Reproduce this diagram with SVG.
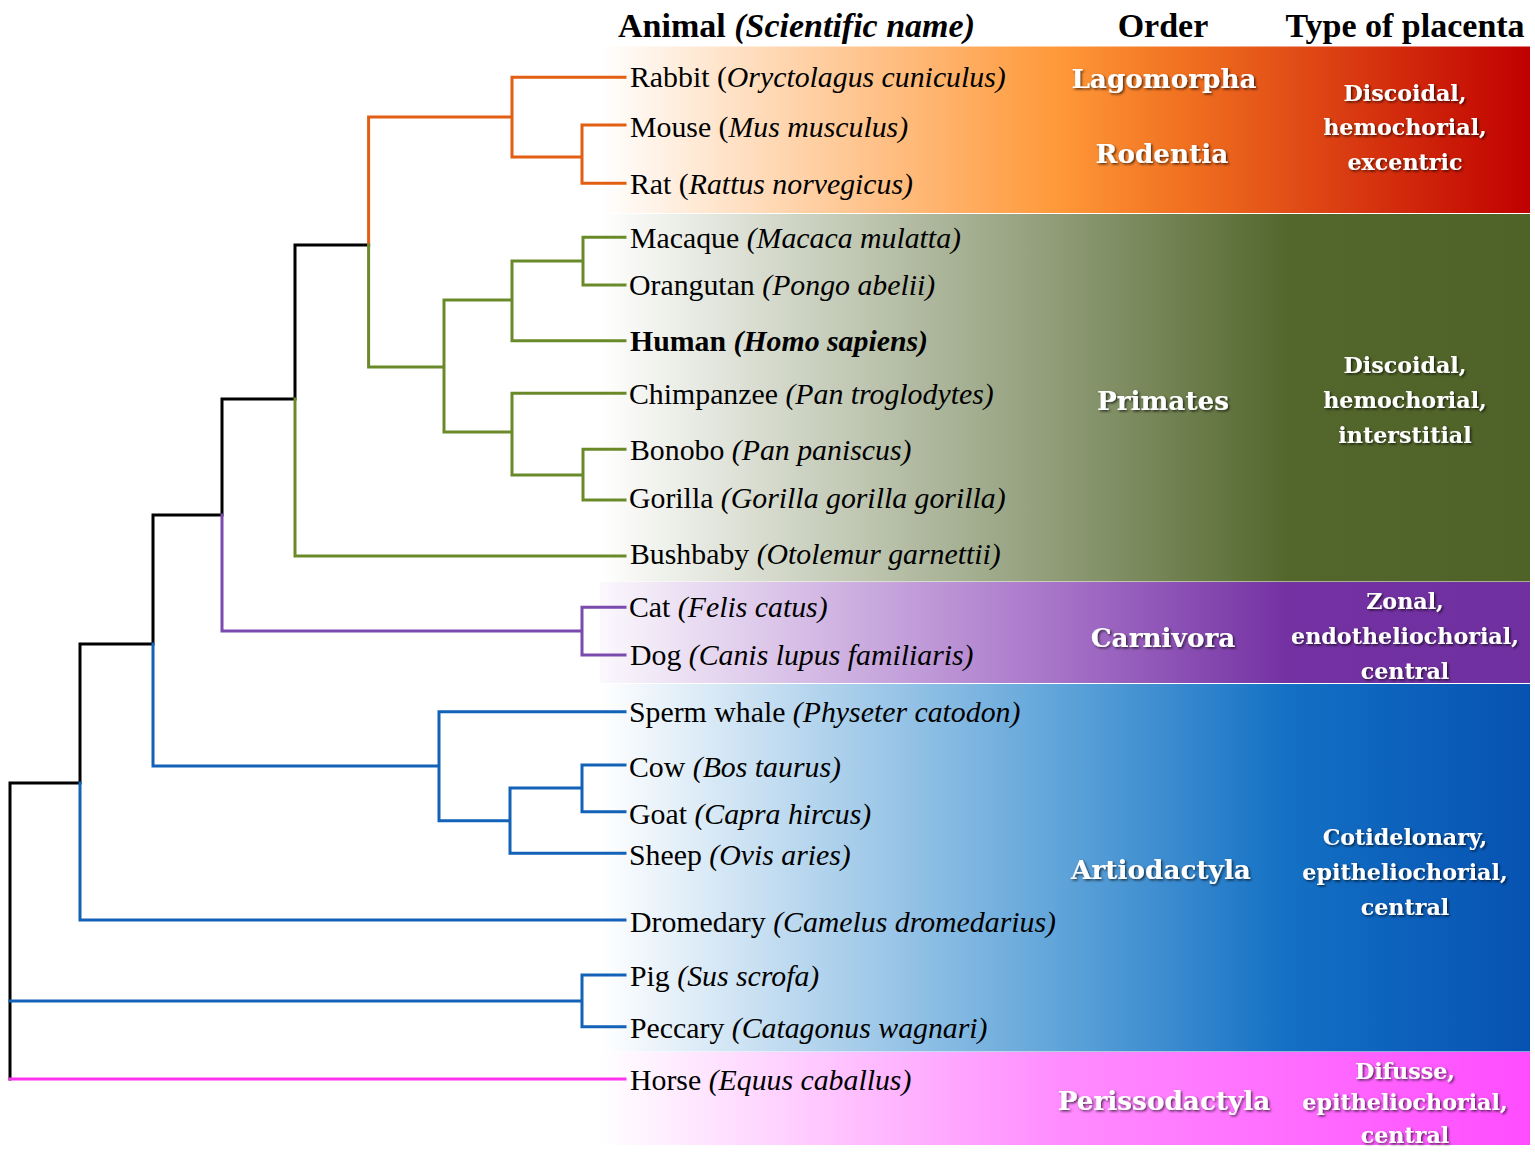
<svg xmlns="http://www.w3.org/2000/svg" width="1535" height="1152" viewBox="0 0 1535 1152">
<defs>
<linearGradient id="gOr" gradientUnits="userSpaceOnUse" x1="600" y1="0" x2="1530" y2="0">
<stop offset="0" stop-color="#FFFFFF"/><stop offset="0.495" stop-color="#FF9838"/><stop offset="0.63" stop-color="#F07020"/><stop offset="1" stop-color="#C00000"/>
</linearGradient>
<linearGradient id="gGr" gradientUnits="userSpaceOnUse" x1="600" y1="0" x2="1530" y2="0">
<stop offset="0" stop-color="#FFFFFF"/><stop offset="0.495" stop-color="#8E9B76"/><stop offset="0.74" stop-color="#53672C"/><stop offset="1" stop-color="#4F6228"/>
</linearGradient>
<linearGradient id="gPu" gradientUnits="userSpaceOnUse" x1="600" y1="0" x2="1530" y2="0">
<stop offset="0" stop-color="#FBF8FD"/><stop offset="0.495" stop-color="#A672C8"/><stop offset="0.74" stop-color="#7331A2"/><stop offset="1" stop-color="#7030A0"/>
</linearGradient>
<linearGradient id="gBl" gradientUnits="userSpaceOnUse" x1="600" y1="0" x2="1530" y2="0">
<stop offset="0" stop-color="#FFFFFF"/><stop offset="0.495" stop-color="#5FA4D9"/><stop offset="0.74" stop-color="#1370C4"/><stop offset="1" stop-color="#0652B2"/>
</linearGradient>
<linearGradient id="gMa" gradientUnits="userSpaceOnUse" x1="600" y1="0" x2="1530" y2="0">
<stop offset="0" stop-color="#FFFFFF"/><stop offset="0.495" stop-color="#FF8CFF"/><stop offset="1" stop-color="#FF4CFF"/>
</linearGradient>
<filter id="sh" x="-10%" y="-30%" width="120%" height="160%">
<feDropShadow dx="1.5" dy="1.5" stdDeviation="1" flood-color="#000000" flood-opacity="0.65"/>
</filter>
<style>
.br{fill:none;stroke-width:3;stroke-linecap:square;stroke-linejoin:miter}
.k{stroke:#000000}
.o{stroke:#E25E12}
.g{stroke:#6A8A2A}
.p{stroke:#7A4AAE}
.b{stroke:#1262B8}
.m{stroke:#FF33EE}
.hd{font-family:"Liberation Serif","Times New Roman",serif;font-weight:bold;font-size:34px;fill:#000}
.lf{font-family:"Liberation Serif","Times New Roman",serif;font-size:29.8px;fill:#000}
.it{font-style:italic}
.bd{font-weight:bold}
.ord{font-family:"DejaVu Serif","Liberation Serif",serif;font-weight:bold;font-size:26.3px;fill:#FFFFFF;text-anchor:middle;filter:url(#sh)}
.pl{font-family:"DejaVu Serif","Liberation Serif",serif;font-weight:bold;font-size:22.2px;fill:#FFFFFF;text-anchor:middle;filter:url(#sh)}
</style>
</defs>
<rect x="0" y="0" width="1535" height="1152" fill="#FFFFFF"/>
<g id="bands">
<rect x="600" y="46.5" width="930" height="166.5" fill="url(#gOr)"/>
<rect x="600" y="214" width="930" height="367.5" fill="url(#gGr)"/>
<rect x="600" y="582" width="930" height="101" fill="url(#gPu)"/>
<rect x="600" y="684" width="930" height="367.5" fill="url(#gBl)"/>
<rect x="600" y="1052" width="930" height="93" fill="url(#gMa)"/>
</g>
<g id="header">
<text class="hd" x="618" y="37">Animal <tspan class="it">(Scientific name)</tspan></text>
<text class="hd" x="1163" y="37" text-anchor="middle">Order</text>
<text class="hd" x="1405" y="37" text-anchor="middle">Type of placenta</text>
</g>
<g id="connectors">
<path class="br k" d="M295,245H368.6 M295,245V399 M222,399H295 M222,399V515 M153,515H222 M153,515V644 M80,644H153 M80,644V783 M10,783H80 M10,783V1079"/>
<path class="br o" d="M368.6,245V117H512 M512,77.3V157 M512,77.3H625 M512,157H582 M582,125V183.3 M582,125H625 M582,183.3H625"/>
<path class="br g" d="M368.6,245V367H444 M444,300V432 M444,300H512 M512,261V340.7 M512,261H583 M583,237.3V285 M583,237.3H625 M583,285H625 M512,340.7H625 M444,432H512 M512,393.3V475 M512,393.3H625 M512,475H583 M583,449.3V500 M583,449.3H625 M583,500H625 M295,399V556H625"/>
<path class="br p" d="M222,515V631H582 M582,607.3V655 M582,607.3H625 M582,655H625"/>
<path class="br b" d="M153,644V766H439 M439,711.7V820.7 M439,711.7H625 M439,820.7H510 M510,788V853.3 M510,788H582 M582,765V811.7 M582,765H625 M582,811.7H625 M510,853.3H625 M80,783V920H625 M10,1001H582 M582,975V1026.7 M582,975H625 M582,1026.7H625"/>
<path class="br m" d="M10,1079H625"/>
</g>
<g id="leaves">
<g id="rabbit"><text class="lf" x="630" y="87">Rabbit (<tspan class="it">Oryctolagus cuniculus)</tspan></text></g>
<g id="mouse"><text class="lf" x="630" y="137">Mouse (<tspan class="it">Mus musculus)</tspan></text></g>
<g id="rat"><text class="lf" x="630" y="194">Rat (<tspan class="it">Rattus norvegicus)</tspan></text></g>
<g id="macaque"><text class="lf" x="630" y="248">Macaque <tspan class="it">(Macaca mulatta)</tspan></text></g>
<g id="orangutan"><text class="lf" x="629" y="295">Orangutan <tspan class="it">(Pongo abelii)</tspan></text></g>
<g id="human"><text class="lf bd" x="630" y="351">Human <tspan class="it">(Homo sapiens)</tspan></text></g>
<g id="chimpanzee"><text class="lf" x="629" y="404">Chimpanzee <tspan class="it">(Pan troglodytes)</tspan></text></g>
<g id="bonobo"><text class="lf" x="630" y="460">Bonobo <tspan class="it">(Pan paniscus)</tspan></text></g>
<g id="gorilla"><text class="lf" x="629" y="508">Gorilla <tspan class="it">(Gorilla gorilla gorilla)</tspan></text></g>
<g id="bushbaby"><text class="lf" x="630" y="564">Bushbaby <tspan class="it">(Otolemur garnettii)</tspan></text></g>
<g id="cat"><text class="lf" x="629" y="617">Cat <tspan class="it">(Felis catus)</tspan></text></g>
<g id="dog"><text class="lf" x="630" y="665">Dog <tspan class="it">(Canis lupus familiaris)</tspan></text></g>
<g id="spermwhale"><text class="lf" x="629" y="722">Sperm whale <tspan class="it">(Physeter catodon)</tspan></text></g>
<g id="cow"><text class="lf" x="629" y="777">Cow <tspan class="it">(Bos taurus)</tspan></text></g>
<g id="goat"><text class="lf" x="629" y="824">Goat <tspan class="it">(Capra hircus)</tspan></text></g>
<g id="sheep"><text class="lf" x="629" y="865">Sheep <tspan class="it">(Ovis aries)</tspan></text></g>
<g id="dromedary"><text class="lf" x="630" y="932">Dromedary <tspan class="it">(Camelus dromedarius)</tspan></text></g>
<g id="pig"><text class="lf" x="630" y="986">Pig <tspan class="it">(Sus scrofa)</tspan></text></g>
<g id="peccary"><text class="lf" x="630" y="1038">Peccary <tspan class="it">(Catagonus wagnari)</tspan></text></g>
<g id="horse"><text class="lf" x="630" y="1090">Horse <tspan class="it">(Equus caballus)</tspan></text></g>
</g>
<g id="orders">
<g id="lagomorpha"><text class="ord" x="1164" y="88">Lagomorpha</text></g>
<g id="rodentia"><text class="ord" x="1162" y="163">Rodentia</text></g>
<g id="primates"><text class="ord" x="1163" y="410">Primates</text></g>
<g id="carnivora"><text class="ord" x="1163" y="647">Carnivora</text></g>
<g id="artiodactyla"><text class="ord" x="1161" y="879">Artiodactyla</text></g>
<g id="perissodactyla"><text class="ord" x="1164" y="1110">Perissodactyla</text></g>
</g>
<g id="placenta">
<g id="pl-glires"><text class="pl" x="1405" y="101">Discoidal,</text><text class="pl" x="1405" y="135">hemochorial,</text><text class="pl" x="1405" y="170">excentric</text></g>
<g id="pl-primates"><text class="pl" x="1405" y="373">Discoidal,</text><text class="pl" x="1405" y="408">hemochorial,</text><text class="pl" x="1405" y="443">interstitial</text></g>
<g id="pl-carnivora"><text class="pl" x="1405" y="609">Zonal,</text><text class="pl" x="1405" y="644">endotheliochorial,</text><text class="pl" x="1405" y="679">central</text></g>
<g id="pl-artio"><text class="pl" x="1405" y="845">Cotidelonary,</text><text class="pl" x="1405" y="880">epitheliochorial,</text><text class="pl" x="1405" y="915">central</text></g>
<g id="pl-periss"><text class="pl" x="1405" y="1079">Difusse,</text><text class="pl" x="1405" y="1110">epitheliochorial,</text><text class="pl" x="1405" y="1143">central</text></g>
</g>
</svg>
